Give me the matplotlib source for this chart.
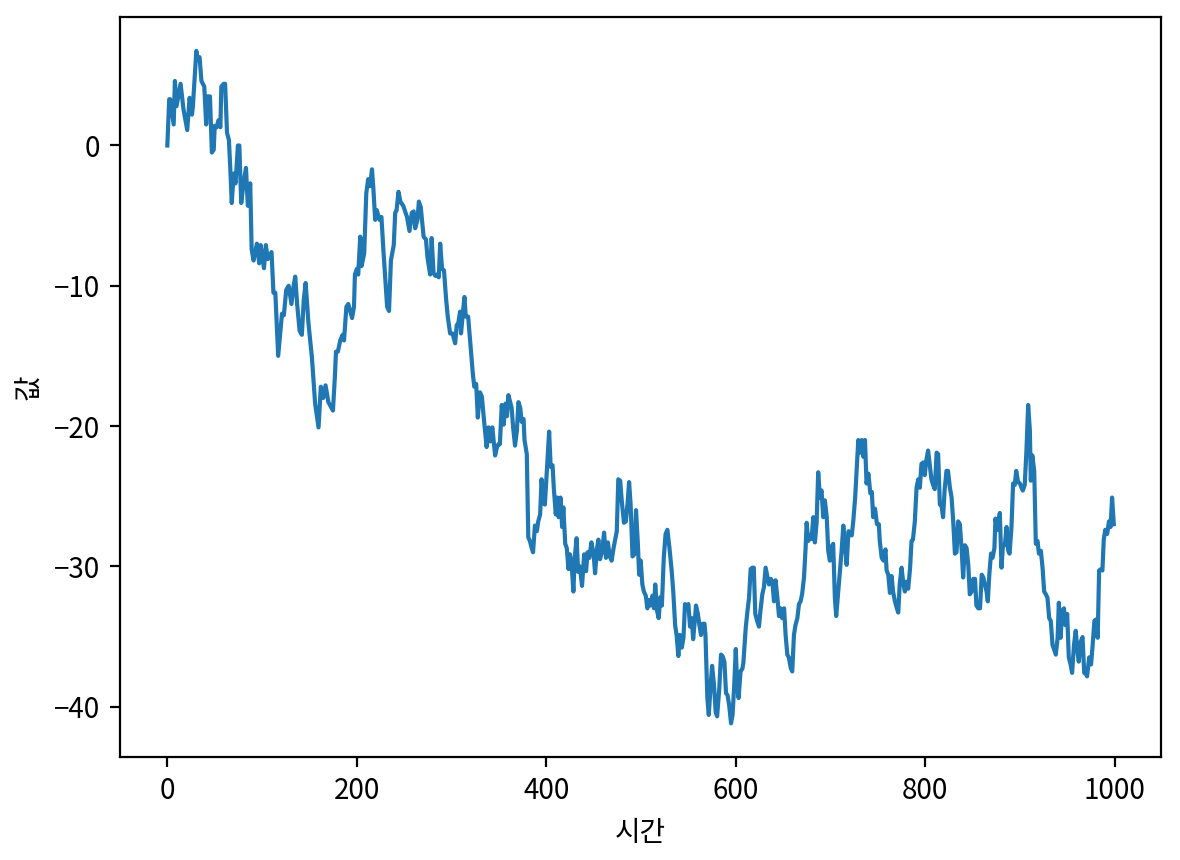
import matplotlib
matplotlib.use("Agg")
import matplotlib.pyplot as plt

plt.rcParams['font.family'] = ['Noto Sans CJK KR', 'DejaVu Sans']

steps = [0, 2, 3, 6.7, 8, 9.7, 14, 17, 21, 23.5, 26, 27, 30.6, 32, 34, 36, 39, 41, 42.5, 45,
         47, 49, 50, 52, 54, 56, 57, 59.5, 61, 63, 65, 66.5, 68, 70, 72, 74.5, 76, 78, 80.5, 83,
         85, 87.5, 89, 91, 94.5, 97, 98.5, 102, 104, 106, 110, 112, 114, 117, 121, 123, 125.5, 128, 131, 133,
         135, 137, 139.6, 142, 144, 146, 149, 152.6, 156, 159.6, 162, 164.5, 167, 170,
         174.8, 177, 178, 180, 182.5, 185, 186.5, 189, 191, 195, 197, 198, 200, 201.5, 203.6, 205, 207.8,
         210, 212, 214, 216, 217.5, 219.4, 221, 224, 226, 228, 232, 234, 236, 239, 240.5, 242, 244, 246,
         249, 253, 255.6, 258, 260, 261.6, 264, 265.5, 267.5, 270.5, 273, 274.6, 277.4, 279, 281, 283,
         284.6, 286.5, 288, 290, 292, 294.3, 296, 298.5, 301, 303.8, 305.5, 307, 309, 310, 312, 313.6,
         315, 317.5, 319.6, 322.5, 324, 326, 327.7, 330, 332, 334, 337, 339, 341, 343, 346, 348, 349.5,
         351, 353, 355, 357, 358.5, 360, 361.5, 363.4, 365, 367, 369, 370.6, 372.5, 374, 376, 377, 379.4,
         381, 382.7, 384.6, 386, 388, 390, 391.5, 393.5, 395, 397, 398.5, 400, 403, 404.6, 406.6, 408,
         410, 411.6, 413, 415, 416.7, 418, 420, 421.6, 423.4, 425, 427, 428.6, 430, 432, 433.6, 435.4,
         437.7, 440, 442, 443.6, 445.4, 447.6, 450, 451.5, 453.6, 455, 456.7, 459, 461, 463, 465, 467,
         469, 471, 473.6, 474.4, 476, 478, 479.6, 482, 484, 485.8, 487.4, 489, 491, 493, 494.7, 496.5,
         498, 499.6, 501.4, 503, 505, 506.7, 508.4, 510, 512, 513.7, 515, 517, 518.6, 520.4, 522, 524,
         525.9, 527.8, 530, 532.3, 534, 536, 537.5, 539.4, 541, 543, 544.8, 546.4, 548, 550, 551.7,
         553.6, 555, 557, 558, 560, 561.4, 563.3, 565, 567, 568, 570, 571.5, 573.5, 575, 577, 578.8,
         580.3, 582.6, 584.4, 586, 588, 589.7, 591.3, 593, 595, 596.6, 598.4, 600, 601.4, 603, 605, 607,
         608, 610.5, 612, 614, 615.7, 617.5, 619, 620.6, 622.6, 624.5, 626, 628, 629.7, 631.5, 633, 635,
         637, 638.7, 640.3, 642, 644, 645.6, 647.3, 649, 651, 652.6, 654.4, 656, 658, 659.6, 661.4, 663,
         665, 666.7, 668.4, 670, 672, 673.7, 674.8, 676.5, 678, 680, 681.8, 683.5, 685.3, 687, 688.8,
         690.5, 692.3, 694, 696, 697.6, 699.3, 701, 702.8, 704.6, 706,
         711.7, 713.5, 715, 717, 719, 720.6, 722.4, 724, 726, 727.5, 729.3, 731, 733, 734.7, 736.4, 738,
         740, 742, 743.6, 745, 747, 749, 751, 752, 754, 756, 758, 759.2, 761, 762.7, 764.5, 766, 768,
         770, 771.5, 773, 775, 777, 778.5, 780, 782, 784, 785.5, 787, 789, 790.8, 792.6, 794.3, 796,
         797.8, 799.5, 801, 803, 805, 806.5, 808.3, 810, 812, 813.6, 815.4, 817, 818.8, 820.5, 822.4,
         824, 826, 827.8, 829.5, 831.3, 833, 834.7, 836.5, 838.3, 840, 841.9, 843.6, 845.4, 847, 849,
         850.7, 852.5, 854, 856, 857.8, 859.6, 861.3, 863, 864.7, 866, 867.6, 869.4, 871, 873, 874.1,
         876, 878.7, 880.5, 882, 884, 885.8, 887.6, 889, 891, 892.7, 894.5, 896, 898, 900, 901.6, 903,
         905, 906.8, 908.6, 910.4, 911.4, 913, 915, 916.7, 918.5, 920, 922, 923.8, 925.5, 927.3, 929,
         930.8, 932.5, 934.3, 936, 937.8, 939.7, 941, 942.8, 944.6, 946.4, 948, 949.8, 951.5, 953.4,
         955, 957, 958.8, 960.5, 962, 964, 966, 967.8, 969.6, 970.8, 973, 975, 976.7, 978.5, 980, 982,
         983.5, 985.6, 987, 988.4, 990, 992, 993.9, 995.6, 997.2, 999]

values = [0.0, 3.3, 3.3, 1.5, 4.6, 2.8, 4.4, 2.6, 1.1, 3.4, 2.2, 2.8, 6.75, 6.15, 6.3, 4.6, 4.2, 1.5, 3.5, 3.5,
          -0.5, -0.3, 1.4, 1.3, 1.8, 1.3, 4.2, 4.4, 4.4, 0.9, 0.4, -1.7, -4.1, -2.0, -2.7, 0.0, 0.0, -4.1, -2.7, -1.6,
          -4.3, -2.7, -7.4, -8.2, -7.0, -8.4, -7.1, -8.75, -7.1, -8.1, -7.6, -10.5, -10.5, -15.0, -12.0, -12.1, -10.3, -10.0, -11.3, -10.1,
          -9.35, -11.3, -13.2, -13.5, -11.0, -9.8, -12.7, -15.1, -18.4, -20.1, -17.2, -18.0, -17.1, -18.3,
          -18.9, -16.3, -14.7, -14.7, -13.9, -13.5, -13.9, -11.5, -11.3, -12.3, -11.5, -9.2, -8.8, -9.2, -6.5, -8.6, -7.7,
          -3.4, -2.4, -2.9, -1.7, -3.1, -5.3, -4.6, -5.3, -5.1, -7.4, -11.5, -11.8, -8.2, -7.1, -4.8, -4.6, -3.3, -4.0,
          -4.3, -5.1, -6.1, -4.8, -4.7, -5.9, -5.3, -4.0, -4.4, -6.5, -6.7, -8.0, -9.2, -6.6, -9.1, -9.3,
          -9.2, -9.4, -7.0, -8.8, -8.9, -11.0, -12.2, -13.4, -13.4, -14.1, -12.8, -12.7, -11.85, -13.4, -11.9, -10.8,
          -12.2, -12.2, -13.9, -16.3, -17.2, -17.0, -19.4, -17.6, -17.9, -19.4, -21.5, -20.1, -21.1, -20.1, -22.1, -21.5, -21.3,
          -21.3, -18.5, -19.9, -18.4, -19.3, -17.8, -18.2, -18.7, -20.1, -21.4, -20.3, -18.3, -18.7, -19.7, -19.5, -21.0, -22.0,
          -27.95, -28.2, -28.7, -29.0, -27.1, -27.5, -26.8, -26.3, -23.8, -25.5, -25.6, -23.9, -20.4, -22.9, -22.8, -24.5,
          -26.3, -25.1, -26.5, -25.1, -27.2, -25.8, -28.4, -28.7, -30.2, -29.15, -30.1, -31.8, -29.4, -28.0, -30.4, -30.0,
          -31.4, -29.15, -30.35, -29.0, -29.4, -28.3, -29.15, -30.5, -28.7, -28.1, -29.5, -28.9, -27.6, -29.4, -28.3, -29.3,
          -29.6, -28.7, -27.8, -27.5, -23.8, -23.9, -25.3, -26.9, -26.8, -25.5, -24.0, -25.6, -29.3, -29.15, -26.0, -28.2,
          -30.6, -29.6, -31.3, -31.8, -32.1, -33.0, -32.4, -32.8, -32.1, -33.0, -31.3, -33.2, -33.7, -32.2, -32.8, -29.4,
          -27.7, -27.4, -28.7, -30.3, -31.8, -34.2, -34.9, -36.4, -34.9, -35.8, -35.1, -32.7, -32.8, -32.7, -34.3,
          -33.7, -35.2, -33.7, -32.8, -33.4, -34.1, -34.9, -34.1, -34.1, -34.9, -39.4, -40.6, -38.45, -37.1, -38.45, -40.4,
          -40.7, -38.7, -36.3, -36.4, -36.8, -39.05, -39.2, -39.9, -41.2, -40.6, -38.45, -35.9, -38.45, -39.4, -37.5, -37.3,
          -36.9, -34.4, -33.4, -32.25, -30.2, -30.1, -30.1, -33.4, -33.9, -34.3, -33.2, -32.0, -31.5, -30.1, -30.6, -31.3,
          -30.9, -31.15, -32.5, -31.0, -32.3, -33.55, -33.0, -33.7, -33.0, -34.9, -36.3, -36.5, -37.25, -37.5, -34.9, -34.2,
          -33.7, -32.7, -32.5, -32.0, -30.8, -28.7, -26.9, -28.2, -27.8, -28.05, -26.5, -28.3, -26.9, -23.3, -25.1,
          -24.6, -26.5, -25.3, -26.5, -28.9, -29.6, -28.6, -28.4, -32.25, -33.55,
          -28.9, -27.1, -28.2, -29.9, -27.5, -27.7, -27.8, -26.8, -25.1, -23.2, -21.0, -21.9, -21.0, -22.2, -21.0, -24.1,
          -23.4, -24.8, -24.7, -26.5, -25.9, -27.0, -27.0, -28.2, -29.4, -29.6, -28.8, -30.3, -30.6, -31.9, -30.7, -31.8, -32.5,
          -33.0, -33.3, -31.3, -30.1, -31.3, -31.8, -31.1, -31.6, -30.1, -28.2, -28.1, -26.8, -24.4, -23.8, -24.4, -22.7,
          -22.6, -23.5, -22.5, -21.75, -22.9, -23.8, -24.2, -24.5, -21.9, -22.0, -25.6, -25.6, -26.5, -24.5, -23.2,
          -23.2, -24.4, -25.1, -26.8, -29.1, -29.0, -26.8, -27.0, -28.7, -30.8, -28.5, -28.7, -29.9, -32.0, -31.8,
          -30.9, -30.9, -32.8, -33.0, -33.0, -30.6, -30.8, -31.3, -31.8, -32.5, -30.6, -29.1, -29.4, -28.7, -26.6,
          -27.4, -26.2, -30.1, -28.5, -28.5, -27.2, -28.9, -29.1, -27.2, -24.1, -24.2, -23.2, -24.0, -24.1, -24.4, -24.6,
          -24.2, -21.75, -18.5, -20.3, -23.9, -22.1, -23.2, -28.4, -28.2, -29.1, -28.9, -30.1, -31.8, -32.0, -32.25,
          -33.7, -33.9, -35.6, -35.95, -36.3, -35.1, -32.6, -35.1, -33.2, -33.0, -34.2, -33.4, -36.5, -37.0,
          -37.6, -35.6, -34.6, -35.95, -36.8, -35.4, -35.05, -37.6, -37.7, -37.85, -36.5, -37.0, -35.6, -33.9, -33.8, -35.1,
          -30.3, -30.2, -30.3, -28.1, -27.4, -27.7, -26.8, -27.2, -25.1, -27.0]

x_label = "시간"
y_label = "값"

fig = plt.figure(figsize=(5.9, 4.3), dpi=200)
ax = fig.add_subplot(111)
fig.subplots_adjust(left=0.1017, right=0.984, top=0.980, bottom=0.1198)
ax.plot(steps, values, color='#1f77b4', linewidth=1.5)
ax.set_xlabel(x_label)
ax.set_ylabel(y_label)
fig.savefig("out.png", dpi=200)
